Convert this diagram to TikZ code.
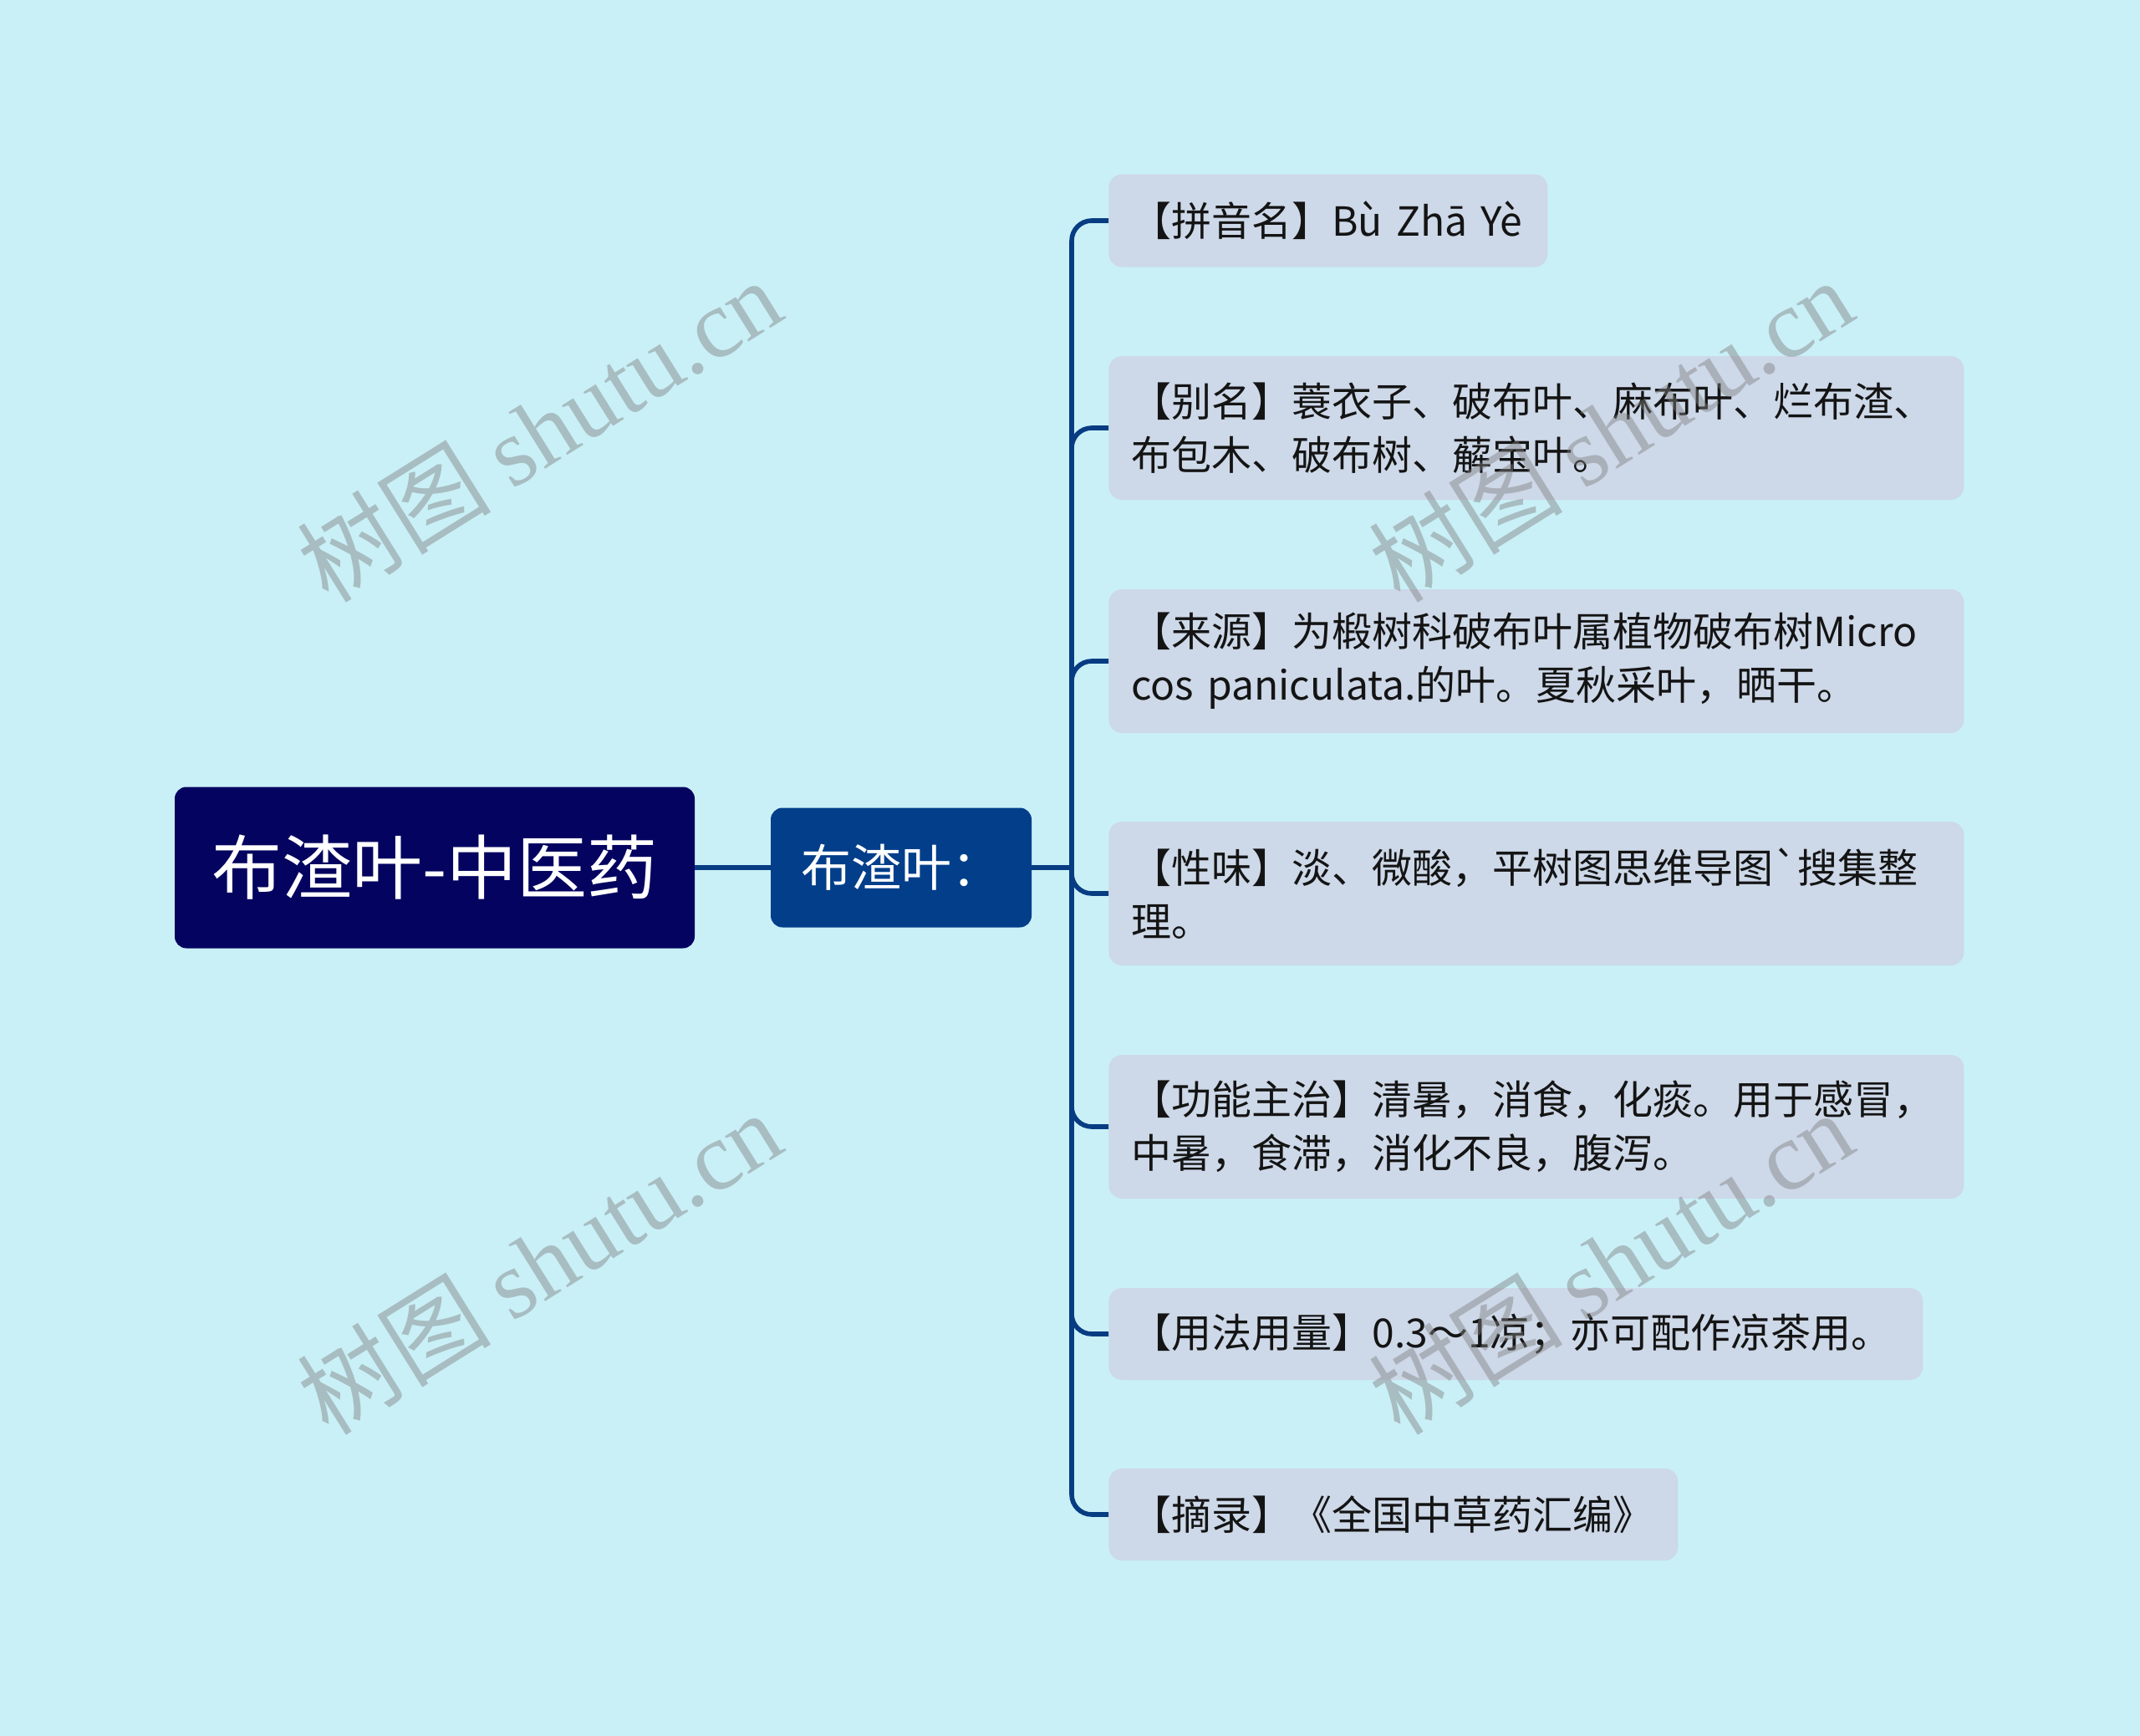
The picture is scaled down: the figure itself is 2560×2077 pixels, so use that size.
\documentclass[tikz,border=0pt]{standalone}
\usepackage{fontspec}
\setmainfont[Ligatures=TeXOff]{Noto Sans CJK SC}
\newfontfamily\wmserif{Liberation Serif}
\definecolor{bgc}{RGB}{201,240,247}
\definecolor{rootc}{RGB}{4,4,96}
\definecolor{childc}{RGB}{2,62,138}
\definecolor{leafc}{RGB}{205,216,232}
\definecolor{connc}{RGB}{8,60,130}
\definecolor{txtc}{RGB}{20,20,20}
\definecolor{wmc}{RGB}{128,128,128}
\begin{document}
\begin{tikzpicture}[x=0.5pt,y=-0.5pt,
  rootbox/.style={fill=rootc, text=white, rounded corners=7pt, minimum width=311pt, minimum height=96.5pt, inner sep=0pt, font=\fontsize{42}{50}\selectfont},
  childbox/.style={fill=childc, text=white, rounded corners=7pt, minimum width=156pt, minimum height=71.5pt, inner sep=0pt, font=\fontsize{30}{36}\selectfont},
  leafbox/.style={fill=leafc, text=txtc, rounded corners=8pt, anchor=west, inner xsep=13.5pt, inner ysep=0pt, align=left, font=\fontsize{24}{32}\selectfont},
  conn/.style={draw=connc, line width=2.8pt},
  wm/.style={text=wmc, text opacity=0.45, rotate=32, font=\fontsize{58}{60}\selectfont}]
\useasboundingbox[fill=bgc] (0,0) rectangle (2560,2077);
% nodes
\node[rootbox] (root) at (520,1038) {布渣叶-中医药};
\node[childbox] (child) at (1078,1038) {布渣叶：};
\coordinate (tr) at (1282,1038);
\node[leafbox, minimum height=55.5pt, text width=235.5pt] (l1) at (1326,264) {\mbox{【拼音名】Bù Zhā Yè}};
\node[leafbox, minimum height=86pt, text width=484.5pt] (l2) at (1326,512) {【别名】蓑衣子、破布叶、麻布叶、烂布渣、\\布包木、破布树、薢宝叶。};
\node[leafbox, minimum height=86pt, text width=484.5pt] (l3) at (1326,791) {【来源】为椴树科破布叶属植物破布树Micro\\\mbox{cos paniculata.的叶。夏秋采叶，晒干。}};
\node[leafbox, minimum height=86pt, text width=484.5pt] (l4) at (1326,1069) {【性味】淡、微酸，平树图思维导图\symbol{96}搜集整\\理。};
\node[leafbox, minimum height=86pt, text width=484.5pt] (l5) at (1326,1348) {【功能主治】清暑，消食，化痰。用于感冒，\\中暑，食滞，消化不良，腹泻。};
\node[leafbox, minimum height=55pt, text width=460pt] (l6) at (1326,1596) {【用法用量】0.3～1凉；亦可配作凉茶用。};
\node[leafbox, minimum height=55pt, text width=313.5pt] (l7) at (1326,1812) {【摘录】《全国中草药汇编》};
% connectors
\draw[conn] (root.east) -- (child.west);
\draw[conn] (child.east) -- (tr);
\foreach \l in {l1,l2,l3,l4,l5,l6,l7}{
  \draw[conn, rounded corners=12pt] (tr) |- (\l.west);
}
% watermarks (on top)
\node[wm] (wm1) at (645,514) {树图 {\wmserif shutu.cn}};
\node[wm] (wm2) at (645,1510) {树图 {\wmserif shutu.cn}};
\node[wm] (wm3) at (1927,514) {树图 {\wmserif shutu.cn}};
\node[wm] (wm4) at (1927,1510) {树图 {\wmserif shutu.cn}};
\end{tikzpicture}
\end{document}
